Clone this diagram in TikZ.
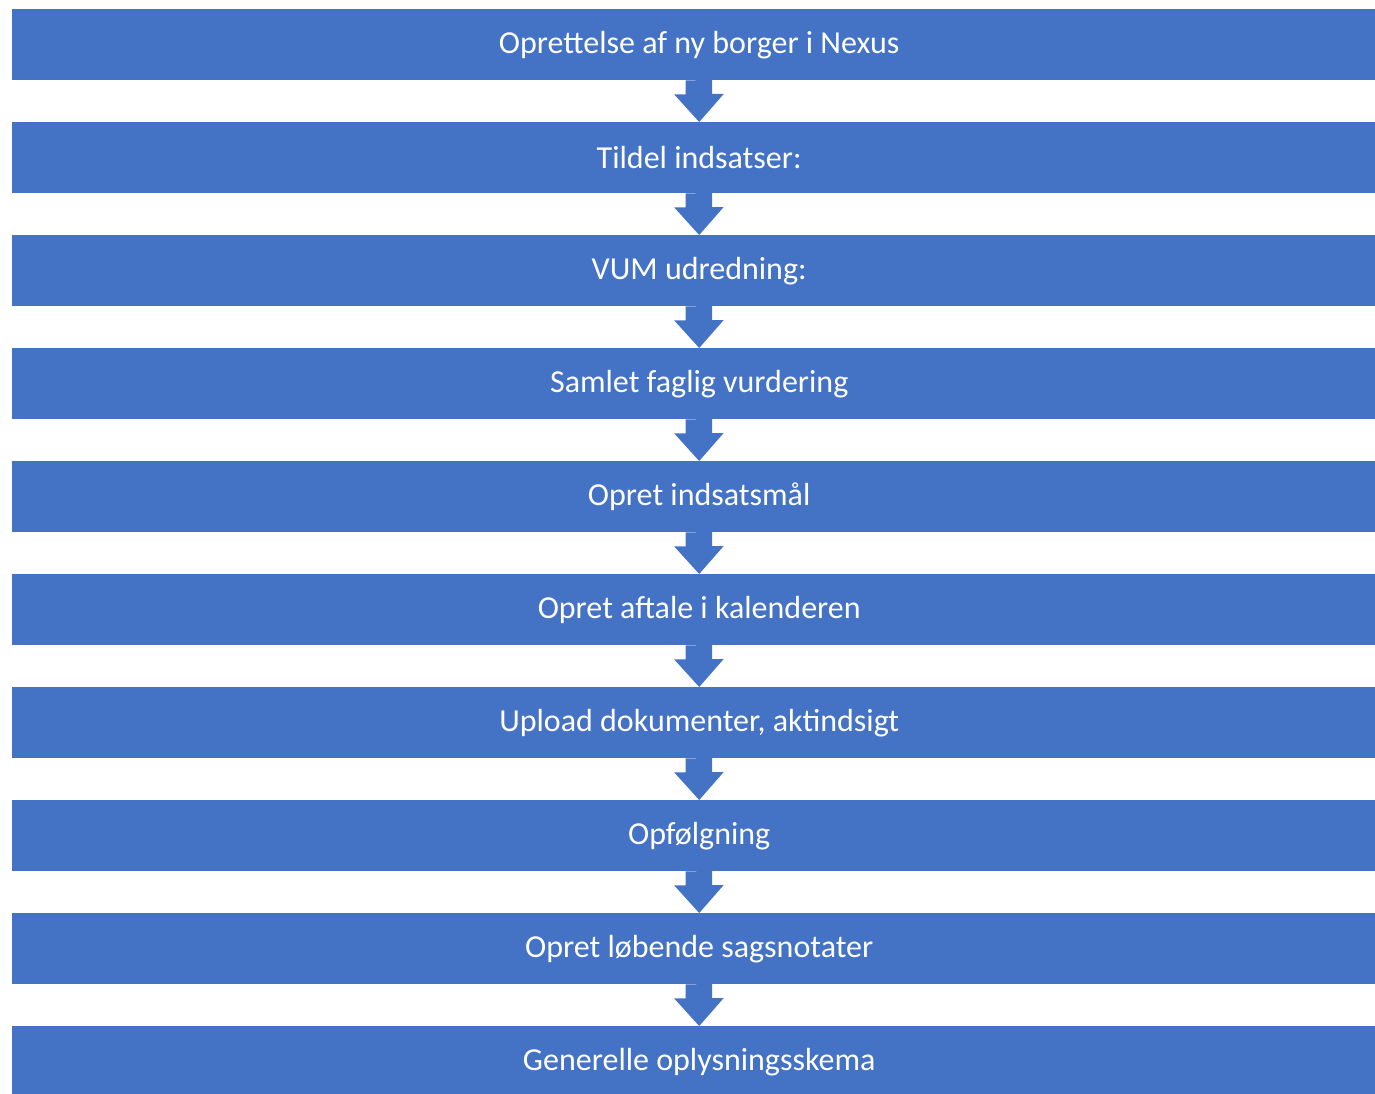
\documentclass[tikz,border=0pt]{standalone}
\usepackage{fontspec}
\setmainfont{Carlito}
\definecolor{boxblue}{HTML}{4472C4}
\begin{document}
\begin{tikzpicture}[x=1pt,y=-1pt,
  stepbox/.style={fill=boxblue, draw=none, minimum width=1374pt, minimum height=71pt, inner sep=0pt, text=white, font=\fontsize{32}{36}\selectfont, anchor=north west},
  flowarrow/.style={fill=boxblue, draw=none}]
\useasboundingbox (0,0) rectangle (1375,1094);
\begin{scope}
\clip (0,0) rectangle (1375,1094);
\foreach \i/\t in {0/Oprettelse af ny borger i Nexus,1/Tildel indsatser:,2/VUM udredning:,3/Samlet faglig vurdering,4/Opret indsatsmål,5/Opret aftale i kalenderen,6/{Upload dokumenter, aktindsigt},7/Opfølgning,8/Opret løbende sagsnotater,9/Generelle oplysningsskema}{
  \node[stepbox] (b\i) at (12,{9+113*\i}) {\t};
}
\foreach \i in {0,...,8}{
  \pgfmathtruncatemacro{\j}{\i+1}
  \fill[flowarrow] ([xshift=-13.5pt]b\i.south) -- ++(0,14) -- ++(-11.5,0) -- (b\j.north) -- ++(24.5,-28) -- ++(-11.5,0) -- ++(0,-14) -- cycle;
}
\end{scope}
\end{tikzpicture}
\end{document}
